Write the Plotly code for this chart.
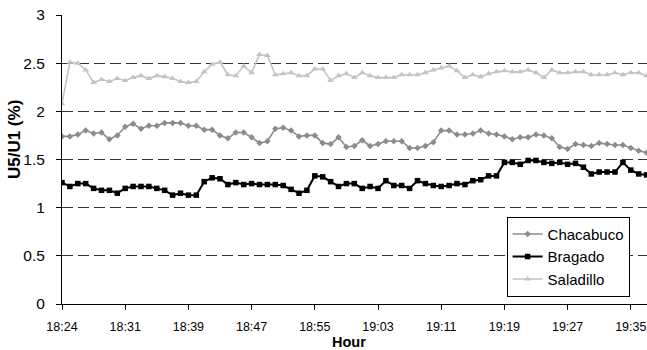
import plotly.graph_objects as go

tick_labels = ["18:24", "18:31", "18:39", "18:47", "18:55", "19:03", "19:11", "19:19", "19:27", "19:35"]
points_per_label = 8

chacabuco = [1.74, 1.74, 1.76, 1.80, 1.77, 1.78, 1.71, 1.75, 1.84, 1.87,
             1.82, 1.85, 1.85, 1.88, 1.88, 1.88, 1.85, 1.85, 1.81, 1.81,
             1.75, 1.72, 1.78, 1.78, 1.73, 1.67, 1.69, 1.82, 1.83, 1.80,
             1.74, 1.75, 1.75, 1.67, 1.66, 1.73, 1.63, 1.64, 1.70, 1.64,
             1.66, 1.69, 1.69, 1.69, 1.62, 1.62, 1.64, 1.68, 1.80, 1.80,
             1.76, 1.76, 1.77, 1.80, 1.77, 1.76, 1.74, 1.71, 1.73, 1.73,
             1.76, 1.75, 1.72, 1.63, 1.61, 1.66, 1.65, 1.64, 1.67, 1.66,
             1.65, 1.65, 1.62, 1.59, 1.57]

bragado = [1.26, 1.22, 1.25, 1.25, 1.20, 1.18, 1.18, 1.15, 1.20, 1.22,
           1.22, 1.22, 1.20, 1.18, 1.13, 1.15, 1.13, 1.13, 1.27, 1.31,
           1.30, 1.24, 1.26, 1.24, 1.25, 1.24, 1.24, 1.24, 1.23, 1.19,
           1.15, 1.18, 1.33, 1.32, 1.27, 1.22, 1.25, 1.25, 1.20, 1.22,
           1.20, 1.28, 1.23, 1.23, 1.20, 1.28, 1.25, 1.23, 1.22, 1.23,
           1.25, 1.24, 1.28, 1.29, 1.33, 1.33, 1.47, 1.47, 1.45, 1.49,
           1.49, 1.47, 1.46, 1.47, 1.45, 1.46, 1.42, 1.35, 1.37, 1.37,
           1.37, 1.47, 1.39, 1.35, 1.34]

saladillo = [2.08, 2.51, 2.50, 2.43, 2.30, 2.33, 2.31, 2.34, 2.32, 2.35,
             2.37, 2.34, 2.37, 2.36, 2.34, 2.31, 2.30, 2.31, 2.41, 2.49,
             2.51, 2.38, 2.37, 2.47, 2.40, 2.59, 2.58, 2.38, 2.39, 2.40,
             2.37, 2.37, 2.44, 2.44, 2.32, 2.37, 2.39, 2.35, 2.40, 2.37,
             2.35, 2.35, 2.35, 2.38, 2.38, 2.38, 2.40, 2.43, 2.45, 2.47,
             2.42, 2.35, 2.38, 2.36, 2.39, 2.41, 2.42, 2.41, 2.41, 2.43,
             2.40, 2.35, 2.43, 2.40, 2.40, 2.41, 2.41, 2.38, 2.38, 2.38,
             2.40, 2.38, 2.40, 2.40, 2.37]

x = list(range(len(chacabuco)))
tick_vals = [i * points_per_label for i in range(len(tick_labels))]

FONT = "Liberation Sans, Arial, sans-serif"

fig = go.Figure()
fig.add_trace(go.Scatter(x=x, y=chacabuco, name="Chacabuco", mode="lines+markers",
                         line=dict(color="#8c8c8c", width=1.6),
                         marker=dict(symbol="diamond", size=5, color="#8c8c8c")))
fig.add_trace(go.Scatter(x=x, y=bragado, name="Bragado", mode="lines+markers",
                         line=dict(color="#000000", width=2),
                         marker=dict(symbol="square", size=5.5, color="#000000")))
fig.add_trace(go.Scatter(x=x, y=saladillo, name="Saladillo", mode="lines+markers",
                         line=dict(color="#c4c4c4", width=1.6),
                         marker=dict(symbol="triangle-up", size=6, color="#c4c4c4")))

fig.update_layout(
    width=647, height=350,
    margin=dict(l=62, r=0, t=15, b=46),
    paper_bgcolor="white", plot_bgcolor="white",
    font=dict(family=FONT, color="black"),
    showlegend=True,
    legend=dict(x=0.760, y=0.302, xanchor="left", yanchor="top",
                bgcolor="white", bordercolor="black", borderwidth=1,
                font=dict(size=15, family=FONT), itemwidth=30,
                tracegroupgap=0),
    xaxis=dict(range=[0, 74.05], tickmode="array", tickvals=tick_vals, ticktext=tick_labels,
               showgrid=False, zeroline=False, showline=True, linecolor="black", linewidth=1,
               ticks="outside", ticklen=5, tickcolor="black", tickfont=dict(size=12.5),
               ticklabelstandoff=6),
    yaxis=dict(range=[0, 3], dtick=0.5, showgrid=True, gridcolor="#333333", gridwidth=1,
               griddash="11px,5px", zeroline=False, showline=True, linecolor="black",
               linewidth=1, ticks="outside", ticklen=5, tickcolor="black",
               tickfont=dict(size=15.5), ticklabelstandoff=8),
    annotations=[
        dict(text="<b>Hour</b>", xref="paper", yref="paper", x=0.491, y=-0.13,
             xanchor="center", yanchor="middle", showarrow=False, font=dict(size=14.5)),
        dict(text="<b>U5/U1 (%)</b>", xref="paper", yref="paper", x=-0.08, y=0.568,
             xanchor="center", yanchor="middle", showarrow=False, textangle=-90,
             font=dict(size=17)),
    ],
)

fig.write_html("out.html")
